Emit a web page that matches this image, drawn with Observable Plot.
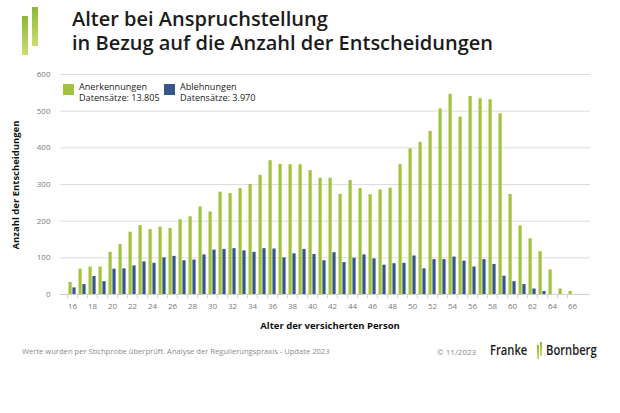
<!DOCTYPE html>
<html>
<head>
<meta charset="utf-8">
<script src="https://cdn.jsdelivr.net/npm/d3@7"></script>
<script src="https://cdn.jsdelivr.net/npm/@observablehq/plot@0.6"></script>
<style>
  html, body { margin: 0; padding: 0; background: #fff; }
  body { font-family: "Open Sans", "DejaVu Sans", sans-serif; }
  #page { position: relative; width: 620px; height: 413px; overflow: hidden; background: #fff; }
  #chart { position: absolute; left: 0; top: 0; }
  .abs { position: absolute; white-space: nowrap; }
  .title { left: 72px; font-size: 20px; font-weight: 600; line-height: 20px; height: 20px; color: #1b1b1b; }
  .logo-bar { position: absolute; width: 6px; background: linear-gradient(#8cb83a, #c9df70); }
  .legend-item { position: absolute; font-size: 9.1px; line-height: 9px; height: 9px; color: #222; font-weight: 500; white-space: nowrap; }
  .swatch { position: absolute; width: 11px; height: 11px; }
  #ylabel { left: 15px; top: 185px; font-size: 9.5px; font-weight: 700; color: #111; transform: translate(-50%, -50%) rotate(-90deg); }
  #xlabel { left: 330px; top: 325px; font-size: 9.5px; font-weight: 700; color: #111; transform: translate(-50%, -50%); }
  #foot { left: 22px; top: 346px; font-size: 7.6px; color: #8a8a8a; }
  #copy { left: 437px; top: 346px; font-size: 8px; color: #8a8a8a; }
  .brand { top: 340px; font-size: 14px; font-weight: 600; color: #1b1b1b; transform: scaleX(0.8); transform-origin: left center; }
</style>
</head>
<body>
<div id="page">
  <div id="chart"></div>
  <div class="logo-bar" style="left:22px; top:16px; height:39px;"></div>
  <div class="logo-bar" style="left:32px; top:7px; height:39px;"></div>
  <div class="abs title" style="top:9px;">Alter bei Anspruchstellung</div>
  <div class="abs title" style="top:33px;">in Bezug auf die Anzahl der Entscheidungen</div>
  <div id="legend"></div>
  <div id="ylabel" class="abs">Anzahl der Entscheidungen</div>
  <div id="xlabel" class="abs">Alter der versicherten Person</div>
  <div id="foot" class="abs">Werte wurden per Stichprobe überprüft. Analyse der Regulierungspraxis - Update 2023</div>
  <div id="copy" class="abs">© 11/2023</div>
  <div class="abs brand" style="left:490px;">Franke</div>
  <div class="logo-bar" style="left:537px; top:345px; width:2px; height:14px;"></div>
  <div class="logo-bar" style="left:540px; top:342px; width:2px; height:14px;"></div>
  <div class="abs brand" style="left:546px;">Bornberg</div>
</div>
<script>
const ages = d3.range(16, 67);
const anerkennungen = [33, 69, 75, 75, 115, 136, 170, 188, 177, 184, 180, 204, 212, 239, 225, 279, 275, 289, 300, 325,
  365, 355, 354, 354, 338, 317, 317, 273, 311, 289, 272, 285, 290, 354, 397, 415, 445, 506, 546, 484,
  540, 534, 531, 493, 273, 187, 152, 117, 67, 15, 8];
const ablehnungen = [18, 27, 49, 35, 69, 70, 78, 89, 85, 100, 104, 92, 94, 108, 121, 123, 125, 119, 115, 125,
  124, 100, 111, 123, 109, 92, 114, 87, 99, 108, 97, 80, 84, 85, 105, 70, 95, 95, 102, 91,
  75, 95, 82, 50, 35, 27, 15, 8, 0, 0, 0];
const seriesNames = ["Anerkennungen", "Ablehnungen"];
const seriesTotals = ["Datensätze: 13.805", "Datensätze: 3.970"];
const seriesColors = ["#a3c23f", "#36568a"];
const yTicks = [0, 100, 200, 300, 400, 500, 600];
const xTickLabels = ages.filter(a => a % 2 === 0);

const rowsA = ages.map((a, i) => ({age: a, value: anerkennungen[i]}));
const rowsB = ages.map((a, i) => ({age: a, value: ablehnungen[i]})).filter(d => d.value > 0);

const plot = Plot.plot({
  width: 620,
  height: 340,
  marginLeft: 60,
  marginRight: 30,
  marginTop: 74,
  marginBottom: 46,
  style: {fontFamily: "'Open Sans', sans-serif", fontSize: "8px", color: "#7a7a7a", background: "transparent"},
  x: {type: "band", domain: ages, range: [63, 581], padding: 0, label: null},
  y: {domain: [0, 600], label: null},
  marks: [
    Plot.gridY(yTicks, {stroke: "#dcdcdc", strokeOpacity: 1, strokeWidth: 1}),
    Plot.axisY(yTicks, {tickSize: 0, tickPadding: 10, label: null, fill: "#7a7a7a"}),
    Plot.barY(rowsA, {x: "age", y: "value", fill: seriesColors[0], insetLeft: 1.5, insetRight: 5.3}),
    Plot.barY(rowsB, {x: "age", y: "value", fill: seriesColors[1], insetLeft: 5.4, insetRight: 1.4}),
    Plot.ruleY([0], {stroke: "#cfcfcf"}),
    Plot.axisX(ages, {tickSize: 4, text: null, stroke: "#cfcfcf", dx: -5.08, label: null}),
    Plot.axisX(xTickLabels, {tickSize: 0, tickPadding: 9, label: null, fill: "#7a7a7a"})
  ]
});
document.getElementById("chart").appendChild(plot);

const legend = document.getElementById("legend");
const legendX = [63, 164];
seriesNames.forEach((name, i) => {
  const sw = document.createElement("div");
  sw.className = "swatch";
  sw.style.left = legendX[i] + "px";
  sw.style.top = "84px";
  sw.style.background = seriesColors[i];
  legend.appendChild(sw);
  [name, seriesTotals[i]].forEach((line, j) => {
    const t = document.createElement("div");
    t.className = "legend-item";
    t.style.left = (legendX[i] + 16) + "px";
    t.style.top = (82 + j * 10.5) + "px";
    t.textContent = line;
    legend.appendChild(t);
  });
});
</script>
</body>
</html>
